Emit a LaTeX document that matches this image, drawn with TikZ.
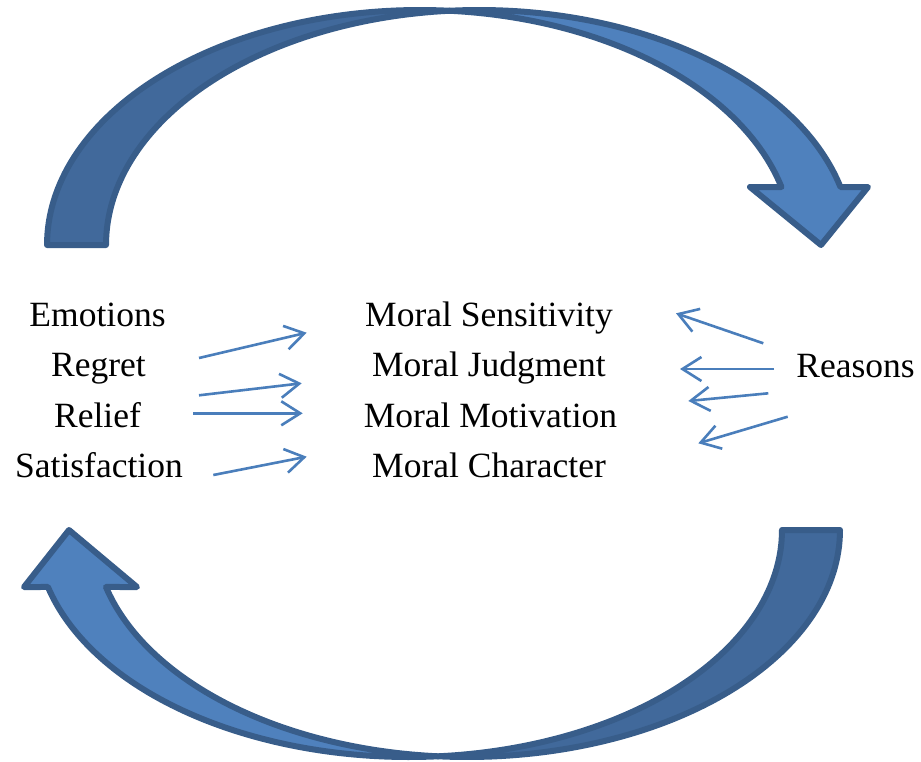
\documentclass[tikz,border=0pt]{standalone}
\usepackage{fontspec}
\setmainfont{Liberation Serif}
\usetikzlibrary{arrows.meta}
\definecolor{bandlight}{HTML}{4F81BD}
\definecolor{banddark}{HTML}{41699B}
\definecolor{bandline}{HTML}{385D8A}
\definecolor{thinarrowcol}{HTML}{4A7EBB}
\tikzset{
  txt/.style={anchor=base, inner sep=0pt, font=\fontsize{35.5}{40}\selectfont},
  thinarrow/.style={draw=thinarrowcol, line width=2.6pt, -{Straight Barb[length=19pt,width=24pt]}},
  bandback/.style={fill=banddark, draw=bandline, line width=6pt, line join=round},
  bandfront/.style={fill=bandlight, draw=bandline, line width=6pt, line join=round},
}
\begin{document}
\begin{tikzpicture}[x=1pt,y=-1pt]
\useasboundingbox (0,0) rectangle (921,761);

% top curved arrow (back band, then front band with head)
\path[bandback] plot[domain=180:274.54,samples=70] ({420+373*cos(\x)},{245+235*sin(\x)})
  -- plot[domain=265.46:180,samples=70] ({479+373*cos(\x)},{245+235*sin(\x)}) -- cycle;
\path[bandfront] plot[domain=265.46:345.71,samples=70] ({479+373*cos(\x)},{245+235*sin(\x)})
  -- (868,187) -- (821,245) -- (750,187)
  -- plot[domain=345.71:274.54,samples=70] ({420+373*cos(\x)},{245+235*sin(\x)}) -- cycle;

% bottom curved arrow
\path[bandback] plot[domain=0:94.46,samples=70] ({467+373*cos(\x)},{530+227*sin(\x)})
  -- plot[domain=85.54:0,samples=70] ({409+373*cos(\x)},{530+227*sin(\x)}) -- cycle;
\path[bandfront] plot[domain=85.54:165.46,samples=70] ({409+373*cos(\x)},{530+227*sin(\x)})
  -- (24,587) -- (69,530) -- (137,587)
  -- plot[domain=165.46:94.46,samples=70] ({467+373*cos(\x)},{530+227*sin(\x)}) -- cycle;

% texts
\node[txt] (emo) at (97.5,326) {Emotions};
\node[txt] (reg) at (98.5,376) {Regret};
\node[txt] (rel) at (97.5,427) {Relief};
\node[txt] (sat) at (99,477) {Satisfaction};
\node[txt] (sen) at (489,326) {Moral Sensitivity};
\node[txt] (jud) at (489,376) {Moral Judgment};
\node[txt] (mot) at (490.5,427) {Moral Motivation};
\node[txt] (cha) at (489,477) {Moral Character};
\node[txt] (rea) at (855.5,377) {Reasons};

% arrow end points
\coordinate (l1s) at (199,358);   \coordinate (l1e) at (306.7,332.7);
\coordinate (l2s) at (199,395.3); \coordinate (l2e) at (301.7,383.3);
\coordinate (l3s) at (193.3,413.3); \coordinate (l3e) at (302.7,413.3);
\coordinate (l4s) at (213.3,475); \coordinate (l4e) at (306.7,456.7);
\coordinate (r1s) at (763.3,343.3); \coordinate (r1e) at (676,313.3);
\coordinate (r2s) at (774,369);   \coordinate (r2e) at (680,369);
\coordinate (r3s) at (768.3,393.3); \coordinate (r3e) at (688.3,401);
\coordinate (r4s) at (787.7,416.7); \coordinate (r4e) at (698.3,443.3);

\draw[thinarrow] (l1s) -- (l1e);
\draw[thinarrow] (l2s) -- (l2e);
\draw[thinarrow] (l3s) -- (l3e);
\draw[thinarrow] (l4s) -- (l4e);
\draw[thinarrow] (r1s) -- (r1e);
\draw[thinarrow] (r2s) -- (r2e);
\draw[thinarrow] (r3s) -- (r3e);
\draw[thinarrow] (r4s) -- (r4e);
\end{tikzpicture}
\end{document}
